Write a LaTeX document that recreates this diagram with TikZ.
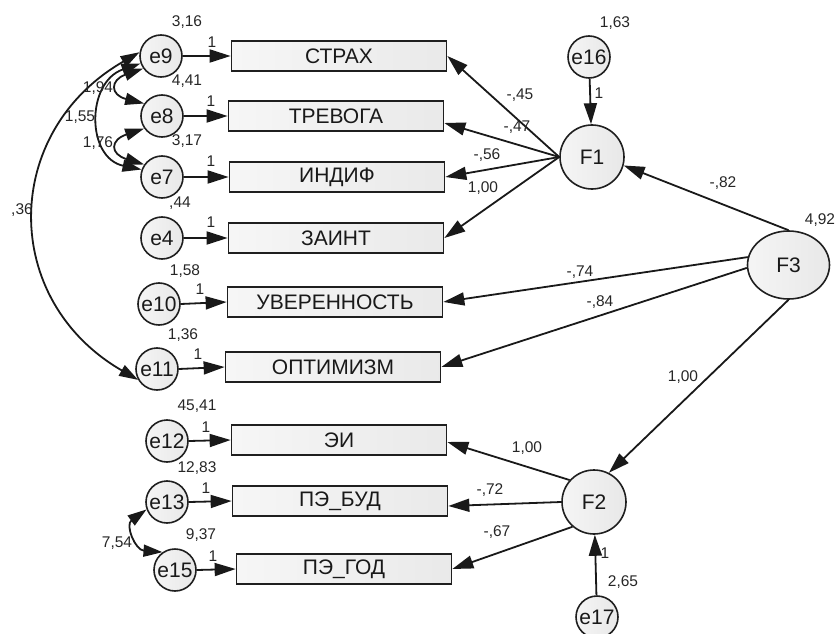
\documentclass[tikz,border=0pt]{standalone}
\usepackage{fontspec}
\setmainfont{Liberation Sans}
\usetikzlibrary{arrows.meta,shapes.geometric}
\begin{document}
\begin{tikzpicture}[x=1pt,y=-1pt,
  obs/.style={draw=black!88, line width=1.7pt, left color=gray!7, right color=gray!17,
    minimum width=215pt, minimum height=30pt, inner sep=0pt, text=black!90,
    font=\fontsize{21}{21}\selectfont},
  err/.style={circle, draw=black!88, line width=1.6pt, left color=gray!8, right color=gray!18,
    minimum size=42pt, inner sep=0pt, text=black!90, font=\fontsize{21}{21}\selectfont},
  lat/.style={circle, draw=black!88, line width=1.6pt, left color=gray!8, right color=gray!18,
    minimum size=64pt, inner sep=0pt, text=black!90, font=\fontsize{21}{21}\selectfont},
  latel/.style={ellipse, draw=black!88, line width=1.6pt, left color=gray!8, right color=gray!18,
    minimum width=82pt, minimum height=68pt, inner sep=0pt, text=black!90, font=\fontsize{21}{21}\selectfont},
  lbl/.style={font=\fontsize{15.5}{15.5}\selectfont, inner sep=0pt, text=black!85},
  arr/.style={line width=1.8pt, draw=black!90, -{Triangle[length=21pt,width=13pt]}},
  cov/.style={line width=1.8pt, draw=black!90, {Triangle[length=19pt,width=12pt]}-{Triangle[length=19pt,width=12pt]}}
]
\useasboundingbox (0,0) rectangle (836,634);

% observed variables
\node[obs] (strax) at (339,56) {СТРАХ};
\node[obs] (trev)  at (336,116) {ТРЕВОГА};
\node[obs] (indif) at (337,177) {ИНДИФ};
\node[obs] (zaint) at (336,238) {ЗАИНТ};
\node[obs] (uver)  at (335,302) {УВЕРЕННОСТЬ};
\node[obs] (optim) at (333,367) {ОПТИМИЗМ};
\node[obs] (ei)    at (339,440) {ЭИ};
\node[obs] (pebud) at (340,501) {ПЭ\_БУД};
\node[obs] (pegod) at (344,569) {ПЭ\_ГОД};

% errors
\node[err] (e9)  at (161,56) {e9};
\node[err] (e8)  at (162,116) {e8};
\node[err] (e7)  at (162,177) {e7};
\node[err] (e4)  at (162,238) {e4};
\node[err] (e10) at (159,304) {e10};
\node[err] (e11) at (157,369) {e11};
\node[err] (e12) at (167,441) {e12};
\node[err] (e13) at (167,502) {e13};
\node[err] (e15) at (175,570) {e15};
\node[err] (e16) at (589,57) {e16};
\node[err] (e17) at (597,617) {e17};

% latent
\node[lat] (F1) at (592,157) {F1};
\node[lat] (F2) at (594,502) {F2};
\node[latel] (F3) at (788.5,265) {F3};

% error arrows
\draw[arr] (e9.east) -- (strax.west);
\draw[arr] (e8.east) -- (trev.west);
\draw[arr] (e7.east) -- (indif.west);
\draw[arr] (e4.east) -- (zaint.west);
\draw[arr] (e10.east) -- (uver.west);
\draw[arr] (e11.east) -- (optim.west);
\draw[arr] (e12.east) -- (ei.west);
\draw[arr] (e13.east) -- (pebud.west);
\draw[arr] (e15.east) -- (pegod.west);
\draw[arr] (e16) -- (F1);
\draw[arr] (e17) -- (F2);

% loadings
\draw[arr] (F1.west) -- (strax.east);
\draw[arr] (F1.west) -- ([yshift=-7pt]trev.east);
\draw[arr] (F1.west) -- (indif.east);
\draw[arr] (F1.west) -- (zaint.east);
\draw[arr] (F3.north) -- (F1.345);
\draw[arr] (F3.169) -- (uver.east);
\draw[arr] (F3.184) -- (optim.east);
\draw[arr] (F3.south) -- (F2.63);
\draw[arr] (F2.138) -- ([yshift=-2pt]ei.east);
\draw[arr] (F2.west) -- ([yshift=-5pt]pebud.east);
\draw[arr] (F2.229) -- (pegod.east);

% covariances
\draw[cov] (e9.215) .. controls (110,80) and (110,95) .. (e8.145);
\draw[cov] (e8.215) .. controls (110,140) and (110,154) .. (e7.145);
\draw[cov] (e9.200) .. controls (86,82) and (86,158) .. (e7.160);
\draw[cov] (e9.170) .. controls (1,132) and (0,300) .. (e11.210);
\draw[cov] (e13.200) .. controls (125,525) and (135,550) .. (e15.125);

% variances
\node[lbl] (v9)  at (187,22) {3,16};
\node[lbl] (v8)  at (187,81) {4,41};
\node[lbl] (v7)  at (187,141) {3,17};
\node[lbl] (v4)  at (180,203) {,44};
\node[lbl] (v10) at (185,271) {1,58};
\node[lbl] (v11) at (183,335) {1,36};
\node[lbl] (v12) at (197,406) {45,41};
\node[lbl] (v13) at (197,468) {12,83};
\node[lbl] (v15) at (201,535) {9,37};
\node[lbl] (v16) at (615,23) {1,63};
\node[lbl] (vF3) at (820,220) {4,92};
\node[lbl] (v17) at (623,582) {2,65};

% ones
\node[lbl] (o9)  at (212,42) {1};
\node[lbl] (o8)  at (211,101) {1};
\node[lbl] (o7)  at (211,161) {1};
\node[lbl] (o4)  at (211,222) {1};
\node[lbl] (o10) at (200,289) {1};
\node[lbl] (o11) at (198,354) {1};
\node[lbl] (o12) at (206,427) {1};
\node[lbl] (o13) at (206,488) {1};
\node[lbl] (o15) at (213,556) {1};
\node[lbl] (o16) at (599,93) {1};
\node[lbl] (o17) at (605,553) {1};

% coefficients
\node[lbl] (c1) at (520,95) {-,45};
\node[lbl] (c2) at (517,127) {-,47};
\node[lbl] (c3) at (487,155) {-,56};
\node[lbl] (c4) at (483,188) {1,00};
\node[lbl] (c5) at (723,183) {-,82};
\node[lbl] (c6) at (580,272) {-,74};
\node[lbl] (c7) at (600,302) {-,84};
\node[lbl] (c8) at (683,377) {1,00};
\node[lbl] (c9) at (527,448) {1,00};
\node[lbl] (c10) at (490,490) {-,72};
\node[lbl] (c11) at (497,532) {-,67};

% covariance labels
\node[lbl] (k1) at (98,88) {1,94};
\node[lbl] (k2) at (80,117) {1,55};
\node[lbl] (k3) at (98,143) {1,76};
\node[lbl] (k4) at (22,210) {,36};
\node[lbl] (k5) at (117,543) {7,54};
\end{tikzpicture}
\end{document}
